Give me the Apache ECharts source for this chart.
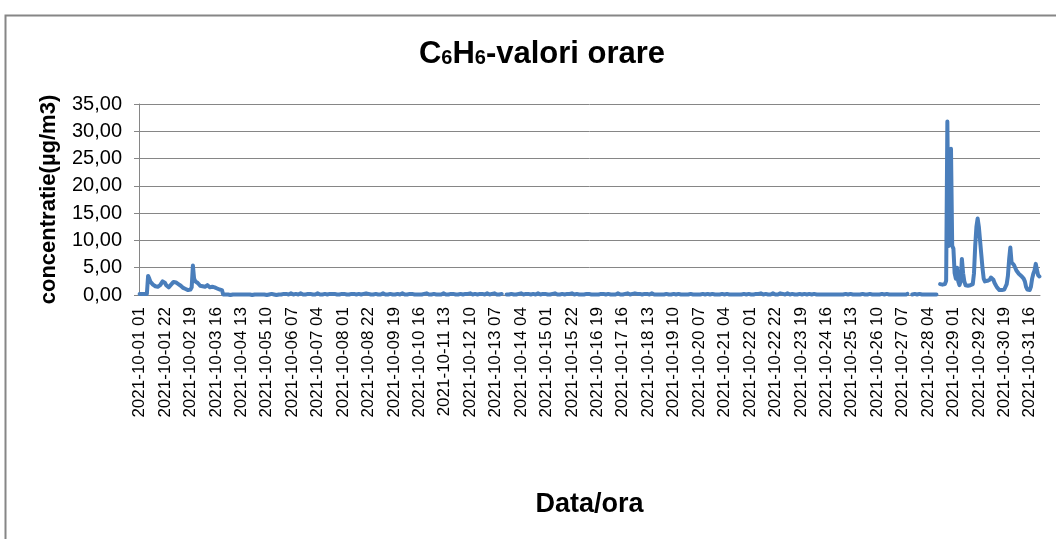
<!DOCTYPE html>
<html>
<head>
<meta charset="utf-8">
<title>C6H6-valori orare</title>
<script src="https://cdn.jsdelivr.net/npm/echarts@6/dist/echarts.min.js"></script>
<style>
  html, body { margin: 0; padding: 0; background: #fff; }
  #main { width: 1056px; height: 539px; }
</style>
</head>
<body>
<div id="main"></div>
<script>
// hourly C6H6 values, one row per day of October 2021 (hours 01..24), null = no data
const day01 = [0.2,0.2,0.2,0.2,0.2,0.2,0.2,3.5,3.0,2.4,2.1,1.9,1.7,1.6,1.5,1.5,1.6,1.8,2.1,2.5,2.7,2.2,1.8,1.5];
const day02 = [1.4,1.6,1.9,2.2,2.4,2.5,2.3,2.1,2.0,1.9,1.7,1.5,1.3,1.2,1.1,1.0,0.9,0.9,1.0,1.4,5.4,3.0,2.5,2.7];
const day03 = [2.2,1.9,1.7,1.8,1.6,1.5,1.5,1.6,1.8,1.5,1.4,1.3,1.5,1.4,1.4,1.3,1.2,1.0,1.0,0.9,0.9,0.1,0.1,0.1];
const day04 = [0.1,0.1,0.1,0.0,0.1,0.1,0.1,0.1,0.0,0.1,0.1,0.1,0.1,0.1,0.0,0.1,0.1,0.1,0.1,0.1,0.1,0.0,0.1,0.1];
const day05 = [0.1,0.1,0.0,0.1,0.1,0.1,0.1,0.1,0.1,0.0,0.1,0.1,0.1,0.2,0.1,0.1,0.1,0.0,0.1,0.1,0.1,0.1,0.1,0.2];
const day06 = [0.1,0.2,0.1,0.1,0.2,0.3,0.2,0.1,0.1,0.2,0.1,0.1,0.2,0.3,0.2,0.1,0.2,0.1,0.1,0.2,0.3,0.2,0.1,0.1];
const day07 = [0.2,0.1,0.1,0.3,0.2,0.1,0.2,0.1,0.1,0.2,0.3,0.1,0.1,0.2,0.1,0.2,0.3,0.2,0.1,0.1,0.2,0.1,0.3,0.2];
const day08 = [0.1,0.2,0.1,0.1,0.2,0.1,0.3,0.2,0.1,0.2,0.1,0.1,0.3,0.2,0.1,0.1,0.2,0.2,0.1,0.3,0.1,0.2,0.1,0.1];
const day09 = [0.2,0.1,0.3,0.2,0.1,0.1,0.2,0.1,0.2,0.3,0.1,0.1,0.2,0.1,0.1,0.2,0.3,0.1,0.2,0.1,0.1,0.2,0.2,0.1];
const day10 = [0.1,0.3,0.2,0.1,0.2,0.1,0.1,0.2,0.3,0.2,0.1,0.1,0.2,0.1,0.3,0.1,0.2,0.1,0.1,0.2,0.1,0.3,0.2,0.1];
const day11 = [0.2,0.1,0.1,0.2,0.3,0.1,0.2,0.1,0.2,0.1,0.1,0.3,0.2,0.1,0.2,0.1,0.1,0.2,0.3,0.2,0.1,0.1,0.2,0.1];
const day12 = [0.1,0.2,0.3,0.1,0.1,0.2,0.1,0.2,0.1,0.3,0.2,0.1,0.1,0.2,0.1,0.1,0.3,0.2,0.1,0.2,0.1,0.1,0.2,0.3];
const day13 = [0.2,0.1,0.1,0.2,0.1,0.3,0.2,0.1,0.2,0.1,0.1,0.2,null,null,null,0.1,0.2,0.1,0.1,0.2,0.3,0.1,0.2,0.1];
const day14 = [0.1,0.2,0.1,0.3,0.2,0.1,0.1,0.2,0.1,0.2,0.3,0.1,0.1,0.2,0.1,0.1,0.2,0.3,0.2,0.1,0.1,0.2,0.1,0.2];
const day15 = [0.3,0.1,0.2,0.1,0.1,0.2,0.1,0.3,0.2,0.1,0.2,0.1,0.1,0.2,0.3,0.1,0.1,0.2,0.1,0.2,0.1,0.3,0.2,0.1];
const day16 = [0.1,0.2,0.2,0.1,0.3,0.1,0.2,0.1,0.1,0.2,0.3,0.2,0.1,0.1,0.2,0.1,0.2,0.1,0.3,0.1,0.1,0.2,0.1,0.2];
const day17 = [0.2,0.1,0.3,0.2,0.1,0.1,0.2,0.1,0.2,0.1,0.1,0.3,0.2,0.1,0.2,0.1,0.1,0.2,0.1,0.3,0.2,0.1,0.1,0.2];
const day18 = [0.1,0.3,0.1,0.2,0.1,0.2,0.1,0.1,0.3,0.2,0.1,0.2,0.1,0.1,0.2,0.3,0.1,0.1,0.2,0.1,0.2,0.1,0.3,0.1];
const day19 = [0.2,0.1,0.1,0.2,0.1,0.1,0.2,0.1,0.1,0.2,0.1,0.1,0.1,0.2,0.1,0.1,0.2,0.1,0.1,0.1,0.2,0.1,0.1,0.2];
const day20 = [0.1,0.1,0.2,0.1,0.1,0.1,0.2,0.1,0.1,0.2,0.1,0.1,0.1,0.2,0.1,0.1,0.1,0.2,0.1,0.1,0.2,0.1,0.1,0.1];
const day21 = [0.1,0.2,0.1,0.1,0.1,0.2,0.1,0.1,0.1,0.1,0.2,0.1,0.1,0.1,0.2,0.1,0.1,0.1,0.1,0.2,0.1,0.1,0.1,0.2];
const day22 = [0.1,0.1,0.2,0.1,0.3,0.2,0.1,0.2,0.1,0.3,0.2,0.1,0.1,0.2,0.3,0.1,0.2,0.1,0.2,0.3,0.1,0.1,0.2,0.1];
const day23 = [0.2,0.3,0.1,0.2,0.1,0.1,0.2,0.3,0.2,0.1,0.1,0.2,0.1,0.1,0.2,0.1,0.1,0.2,0.1,0.1,0.1,0.2,0.1,0.1];
const day24 = [0.1,0.2,0.1,0.1,0.1,0.2,0.1,0.1,0.2,0.1,0.1,0.1,0.2,0.1,0.1,0.1,0.2,0.1,0.1,0.1,0.2,0.1,0.1,0.1];
const day25 = [0.1,0.1,0.2,0.1,0.1,0.1,0.1,0.2,0.1,0.1,0.1,0.2,0.1,0.1,0.1,0.1,0.2,0.1,0.1,0.1,0.1,0.2,0.1,0.1];
const day26 = [0.1,0.1,0.1,0.2,0.1,0.1,0.1,0.1,0.2,0.1,0.1,0.1,0.1,0.2,0.1,0.1,0.1,0.2,0.1,0.1,0.1,0.1,0.2,0.1];
const day27 = [0.1,0.1,0.2,0.1,0.1,0.1,0.2,0.1,0.1,0.1,0.2,null,null,null,0.1,0.1,0.2,0.1,0.1,0.1,0.2,0.1,0.1,0.1];
const day28 = [0.1,0.2,0.1,0.1,0.1,0.2,0.1,0.1,0.1,0.2,0.1,null,null,2.0,1.8,1.9,2.1,2.0,2.6,31.8,9.0,9.5,26.8,9.0];
const day29 = [8.5,4.0,3.0,5.0,2.5,1.8,2.5,6.6,4.0,2.5,1.8,1.8,1.7,1.7,1.8,1.8,2.0,4.0,9.0,12.5,14.0,12.5,10.0,7.5];
const day30 = [5.0,3.0,2.5,2.5,2.6,2.7,2.8,3.2,3.4,2.8,2.2,1.8,1.4,1.1,0.9,0.9,0.9,0.9,1.0,1.3,2.0,3.5,6.5,8.7];
const day31 = [6.0,5.8,5.5,5.0,4.5,4.2,3.9,3.8,3.5,3.3,3.0,2.5,1.5,1.0,0.9,0.9,1.5,3.0,3.9,4.5,5.7,4.6,3.6,3.4];

const days = [day01, day02, day03, day04, day05, day06, day07, day08, day09, day10,
  day11, day12, day13, day14, day15, day16, day17, day18, day19, day20,
  day21, day22, day23, day24, day25, day26, day27, day28, day29, day30, day31];

// category labels "2021-10-DD HH", hours 01..24
const pad = n => (n < 10 ? '0' : '') + n;
const hours = [];
const values = [];
days.forEach((row, d) => {
  row.forEach((v, h) => {
    hours.push('2021-10-' + pad(d + 1) + ' ' + pad(h + 1));
    values.push(v);
  });
});

const font = 'Liberation Sans, Arial, sans-serif';
const myChart = echarts.init(document.getElementById('main'));

const option = {
  backgroundColor: '#fff',
  animation: false,
  title: {
    text: '{n|C}{s|6}{n|H}{s|6}{n|-valori orare}',
    left: 537,
    top: 32,
    textAlign: 'center',
    textStyle: {
      rich: {
        n: { fontFamily: font, fontWeight: 'bold', fontSize: 31, color: '#000', lineHeight: 33, verticalAlign: 'bottom' },
        s: { fontFamily: font, fontWeight: 'bold', fontSize: 20, color: '#000', lineHeight: 23, verticalAlign: 'bottom', padding: [0, 0, 2, 0] }
      }
    }
  },
  graphic: [{
    type: 'rect',
    left: 3,
    top: 13,
    shape: { width: 1100, height: 600 },
    style: { fill: 'none', stroke: '#868686', lineWidth: 2 },
    silent: true
  }],
  grid: {
    left: 139,
    right: 16,
    top: 104,
    bottom: 244
  },
  xAxis: {
    type: 'category',
    data: hours,
    boundaryGap: true,
    name: 'Data/ora',
    nameLocation: 'middle',
    nameGap: 196,
    nameTextStyle: { fontFamily: font, fontWeight: 'bold', fontSize: 27, color: '#000' },
    axisLine: { lineStyle: { color: '#868686', width: 1 } },
    axisTick: { show: false },
    axisLabel: {
      interval: 20,
      rotate: 90,
      margin: 12,
      fontFamily: font,
      fontSize: 17,
      color: '#000'
    },
    splitLine: { show: false }
  },
  yAxis: {
    type: 'value',
    min: 0,
    max: 35,
    interval: 5,
    name: 'concentratie(µg/m3)',
    nameLocation: 'middle',
    nameGap: 79,
    nameTextStyle: { fontFamily: font, fontWeight: 'bold', fontSize: 22, color: '#000' },
    axisLine: { show: true, lineStyle: { color: '#868686', width: 1 } },
    axisTick: { show: true, length: 5, lineStyle: { color: '#868686' } },
    axisLabel: {
      margin: 17,
      fontFamily: font,
      fontSize: 20,
      color: '#000',
      formatter: v => v.toFixed(2).replace('.', ',')
    },
    splitLine: { lineStyle: { color: '#868686', width: 1 } }
  },
  series: [{
    name: 'C6H6',
    type: 'line',
    data: values,
    showSymbol: false,
    connectNulls: false,
    lineStyle: { color: '#4a7ebb', width: 4, cap: 'round', join: 'round' },
    itemStyle: { color: '#4a7ebb' }
  }]
};

myChart.setOption(option);
</script>
</body>
</html>
